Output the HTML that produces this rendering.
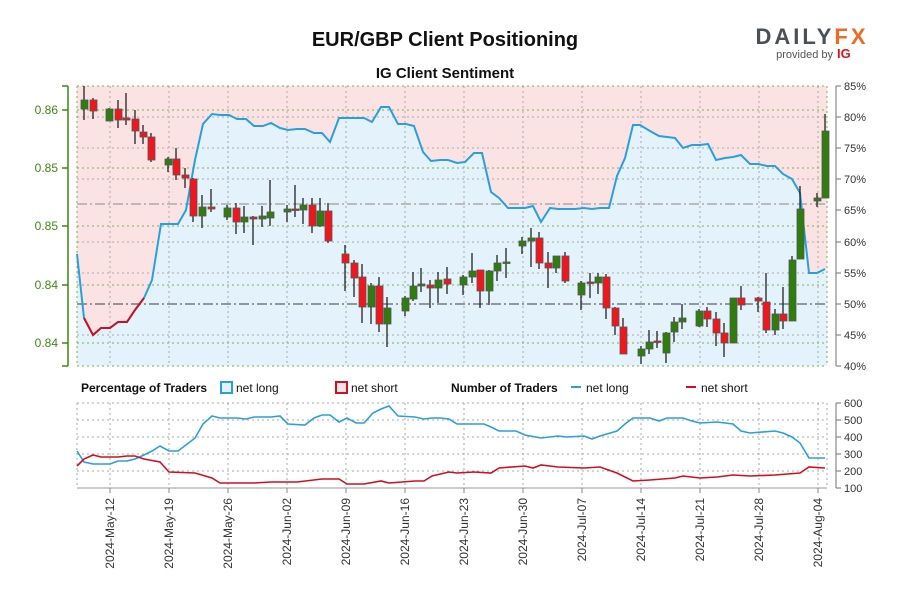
<!DOCTYPE html>
<html><head><meta charset="utf-8"><style>
body{margin:0;background:#fff;width:900px;height:600px;overflow:hidden;font-family:"Liberation Sans",sans-serif}
</style></head><body>
<svg width="900" height="600" xmlns="http://www.w3.org/2000/svg" font-family="Liberation Sans, sans-serif">
<rect width="900" height="600" fill="#fff"/>
<text x="445" y="46" text-anchor="middle" font-size="20" font-weight="bold" fill="#111">EUR/GBP Client Positioning</text>
<text x="445" y="78" text-anchor="middle" font-size="15" font-weight="bold" fill="#111">IG Client Sentiment</text>
<text x="812" y="44" text-anchor="middle" font-size="22" font-weight="bold" letter-spacing="3" fill="#4a5058">DAILY<tspan fill="#f26a21">FX</tspan></text>
<text x="833" y="58" text-anchor="end" font-size="11" fill="#555">provided by</text>
<text x="837" y="58" font-size="13" font-weight="bold" fill="#e3101a">IG</text>

<!-- main plot -->
<rect x="77" y="86" width="750" height="280" fill="#fbe3e4"/>
<polygon fill="#e4f2fb" points="77,366 77,254 84,318 93,335 101,328 110,328 118,322 127,322 135,310 144,298 152,280 161,224 169,224 178,224 186,210 195,160 203,124 212,114 220,115 229,115 237,119 246,119 254,126 263,126 271,123 280,128 288,130 297,129 305,129 314,133 322,133 330,142 339,118 347,118 356,118 364,118 372,122 381,107 389,107 398,124 406,124 414,126 423,152 431,161 440,160 448,160 457,163 465,162 474,153 482,153 491,192 499,198 508,208 516,208 525,208 533,206 541,222 550,208 558,209 567,209 575,209 584,208 592,209 600,208 609,208 617,176 625,158 633,125 640,125 650,131 659,136 667,137 675,138 683,148 692,145 700,145 708,144 716,160 725,158 733,157 741,155 750,164 758,164 767,166 775,166 783,174 792,179 800,193 809,273 817,273 825,269 827,268 827,366"/>
<g stroke="#aaa" stroke-dasharray="2,3" stroke-width="1">
<line x1="110" y1="86" x2="110" y2="366"/><line x1="169" y1="86" x2="169" y2="366"/><line x1="228" y1="86" x2="228" y2="366"/><line x1="287" y1="86" x2="287" y2="366"/><line x1="346" y1="86" x2="346" y2="366"/><line x1="405" y1="86" x2="405" y2="366"/><line x1="464" y1="86" x2="464" y2="366"/><line x1="523" y1="86" x2="523" y2="366"/><line x1="582" y1="86" x2="582" y2="366"/><line x1="641" y1="86" x2="641" y2="366"/><line x1="700" y1="86" x2="700" y2="366"/><line x1="759" y1="86" x2="759" y2="366"/><line x1="818" y1="86" x2="818" y2="366"/>
<line x1="77" y1="117" x2="827" y2="117"/><line x1="77" y1="179" x2="827" y2="179"/><line x1="77" y1="242" x2="827" y2="242"/><line x1="77" y1="273" x2="827" y2="273"/><line x1="77" y1="335" x2="827" y2="335"/><line x1="77" y1="148" x2="827" y2="148"/>
</g>
<g stroke="#7cb04a" stroke-dasharray="2,3" stroke-width="1">
<line x1="77" y1="86" x2="827" y2="86"/><line x1="77" y1="110" x2="827" y2="110"/><line x1="77" y1="168" x2="827" y2="168"/><line x1="77" y1="226" x2="827" y2="226"/><line x1="77" y1="285" x2="827" y2="285"/><line x1="77" y1="343" x2="827" y2="343"/><line x1="77" y1="366" x2="827" y2="366"/>
<line x1="77" y1="86" x2="77" y2="366"/><line x1="827" y1="86" x2="827" y2="366"/>
</g>
<line x1="77" y1="204" x2="827" y2="204" stroke="#aaa" stroke-width="1.5" stroke-dasharray="10,3,2,3"/>
<line x1="77" y1="304" x2="827" y2="304" stroke="#777" stroke-width="1.5" stroke-dasharray="10,3,2,3"/>
<polyline fill="none" stroke="#2a9fe0" stroke-width="2" points="77,254 84,318 93,335 101,328 110,328 118,322 127,322 135,310 144,298 152,280 161,224 169,224 178,224 186,210 195,160 203,124 212,114 220,115 229,115 237,119 246,119 254,126 263,126 271,123 280,128 288,130 297,129 305,129 314,133 322,133 330,142 339,118 347,118 356,118 364,118 372,122 381,107 389,107 398,124 406,124 414,126 423,152 431,161 440,160 448,160 457,163 465,162 474,153 482,153 491,192 499,198 508,208 516,208 525,208 533,206 541,222 550,208 558,209 567,209 575,209 584,208 592,209 600,208 609,208 617,176 625,158 633,125 640,125 650,131 659,136 667,137 675,138 683,148 692,145 700,145 708,144 716,160 725,158 733,157 741,155 750,164 758,164 767,166 775,166 783,174 792,179 800,193 809,273 817,273 825,269"/>
<polyline fill="none" stroke="#d0101e" stroke-width="2" points="84,318 93,335 101,328 110,328 118,322 127,322 135,310 144,298"/>

<!-- candles -->
<g stroke="#222" stroke-width="1.3">
<line x1="84" y1="86" x2="84" y2="120"/><line x1="93" y1="98" x2="93" y2="119"/><line x1="109" y1="108" x2="109" y2="121"/><line x1="118" y1="100" x2="118" y2="128"/><line x1="126" y1="93" x2="126" y2="125"/><line x1="135" y1="110" x2="135" y2="144"/><line x1="143" y1="125" x2="143" y2="144"/><line x1="151" y1="133" x2="151" y2="162"/><line x1="168" y1="157" x2="168" y2="172"/><line x1="176" y1="148" x2="176" y2="180"/><line x1="185" y1="168" x2="185" y2="188"/><line x1="193" y1="178" x2="193" y2="222"/><line x1="202" y1="195" x2="202" y2="228"/><line x1="211" y1="189" x2="211" y2="212"/><line x1="227" y1="205" x2="227" y2="220"/><line x1="236" y1="203" x2="236" y2="234"/><line x1="244" y1="206" x2="244" y2="233"/><line x1="253" y1="216" x2="253" y2="245"/><line x1="262" y1="206" x2="262" y2="227"/><line x1="270" y1="180" x2="270" y2="226"/><line x1="287" y1="205" x2="287" y2="222"/><line x1="295" y1="185" x2="295" y2="217"/><line x1="303" y1="198" x2="303" y2="224"/><line x1="312" y1="198" x2="312" y2="233"/><line x1="320" y1="198" x2="320" y2="227"/><line x1="328" y1="203" x2="328" y2="243"/>
<line x1="345" y1="245" x2="345" y2="291"/><line x1="354" y1="260" x2="354" y2="297"/><line x1="362" y1="264" x2="362" y2="323"/><line x1="371" y1="283" x2="371" y2="324"/><line x1="379" y1="277" x2="379" y2="332"/><line x1="387" y1="297" x2="387" y2="347"/><line x1="405" y1="296" x2="405" y2="316"/><line x1="413" y1="272" x2="413" y2="301"/><line x1="421" y1="268" x2="421" y2="292"/><line x1="430" y1="280" x2="430" y2="308"/><line x1="438" y1="272" x2="438" y2="303"/><line x1="447" y1="267" x2="447" y2="294"/><line x1="463" y1="275" x2="463" y2="295"/><line x1="472" y1="253" x2="472" y2="283"/><line x1="480" y1="270" x2="480" y2="308"/><line x1="489" y1="270" x2="489" y2="305"/><line x1="497" y1="255" x2="497" y2="281"/><line x1="506" y1="248" x2="506" y2="278"/><line x1="522" y1="237" x2="522" y2="254"/><line x1="531" y1="228" x2="531" y2="267"/><line x1="539" y1="232" x2="539" y2="269"/><line x1="548" y1="252" x2="548" y2="288"/><line x1="556" y1="256" x2="556" y2="273"/><line x1="565" y1="252" x2="565" y2="283"/><line x1="581" y1="281" x2="581" y2="310"/><line x1="590" y1="273" x2="590" y2="298"/><line x1="598" y1="273" x2="598" y2="294"/><line x1="606" y1="274" x2="606" y2="319"/><line x1="615" y1="307" x2="615" y2="335"/><line x1="623" y1="318" x2="623" y2="354"/><line x1="641" y1="346" x2="641" y2="364"/><line x1="649" y1="330" x2="649" y2="354"/><line x1="657" y1="331" x2="657" y2="348"/><line x1="666" y1="332" x2="666" y2="363"/><line x1="674" y1="317" x2="674" y2="342"/><line x1="682" y1="304" x2="682" y2="329"/><line x1="699" y1="309" x2="699" y2="327"/><line x1="707" y1="307" x2="707" y2="327"/><line x1="716" y1="312" x2="716" y2="346"/><line x1="724" y1="323" x2="724" y2="357"/><line x1="733" y1="298" x2="733" y2="343"/><line x1="741" y1="286" x2="741" y2="310"/><line x1="758" y1="297" x2="758" y2="312"/><line x1="766" y1="273" x2="766" y2="333"/><line x1="775" y1="309" x2="775" y2="335"/><line x1="783" y1="287" x2="783" y2="329"/><line x1="792" y1="256" x2="792" y2="321"/><line x1="800" y1="186" x2="800" y2="259"/><line x1="817" y1="193" x2="817" y2="207"/><line x1="825" y1="114" x2="825" y2="198"/>
</g>
<g stroke="#555" stroke-width="0.8" fill="#2e7d0e">
<rect x="81" y="100" width="7" height="9"/><rect x="106" y="109" width="7" height="12"/><rect x="165" y="159" width="7" height="6"/><rect x="199" y="207" width="7" height="9"/><rect x="224" y="208" width="7" height="9"/><rect x="241" y="217" width="7" height="5"/><rect x="259" y="216" width="7" height="3"/><rect x="267" y="212" width="7" height="6"/><rect x="284" y="209" width="7" height="3"/><rect x="300" y="205" width="7" height="5"/><rect x="317" y="211" width="7" height="15"/>
<rect x="368" y="286" width="7" height="21"/><rect x="384" y="308" width="7" height="16"/><rect x="402" y="298" width="7" height="13"/><rect x="410" y="286" width="7" height="13"/><rect x="418" y="284" width="7" height="2"/><rect x="435" y="280" width="7" height="8"/><rect x="460" y="277" width="7" height="8"/><rect x="469" y="271" width="7" height="6"/><rect x="486" y="271" width="7" height="20"/><rect x="494" y="263" width="7" height="8"/><rect x="503" y="262" width="7" height="1.5"/><rect x="519" y="241" width="7" height="5"/><rect x="528" y="238" width="7" height="3"/><rect x="553" y="256" width="7" height="12"/><rect x="578" y="283" width="7" height="12"/><rect x="595" y="277" width="7" height="6"/><rect x="638" y="349" width="7" height="7"/><rect x="646" y="342" width="7" height="7"/><rect x="663" y="333" width="7" height="20"/><rect x="671" y="322" width="7" height="10"/><rect x="679" y="318" width="7" height="4"/><rect x="696" y="311" width="7" height="15"/><rect x="730" y="298" width="7" height="45"/><rect x="772" y="314" width="7" height="16"/><rect x="789" y="260" width="7" height="61"/><rect x="797" y="209" width="7" height="50"/><rect x="814" y="198" width="7" height="3"/><rect x="822" y="131" width="7" height="67"/>
</g>
<g stroke="#555" stroke-width="0.8" fill="#f0161e">
<rect x="90" y="100" width="7" height="11"/><rect x="115" y="109" width="7" height="11"/><rect x="123" y="118" width="7" height="2"/><rect x="132" y="119" width="7" height="12"/><rect x="140" y="132" width="7" height="5"/><rect x="148" y="137" width="7" height="23"/><rect x="173" y="159" width="7" height="16"/><rect x="182" y="175" width="7" height="3"/><rect x="190" y="179" width="7" height="37"/><rect x="208" y="207" width="7" height="2"/><rect x="233" y="208" width="7" height="14"/><rect x="250" y="217" width="7" height="2"/><rect x="292" y="209" width="7" height="1.5"/><rect x="309" y="205" width="7" height="21"/><rect x="325" y="211" width="7" height="30"/>
<rect x="342" y="254" width="7" height="9"/><rect x="351" y="263" width="7" height="15"/><rect x="359" y="277" width="7" height="30"/><rect x="376" y="286" width="7" height="38"/><rect x="427" y="285" width="7" height="3"/><rect x="444" y="279" width="7" height="5"/><rect x="477" y="270" width="7" height="21"/><rect x="536" y="238" width="7" height="25"/><rect x="545" y="263" width="7" height="5"/><rect x="562" y="256" width="7" height="25"/><rect x="587" y="282" width="7" height="1.5"/><rect x="603" y="277" width="7" height="31"/><rect x="612" y="308" width="7" height="18"/><rect x="620" y="327" width="7" height="27"/><rect x="654" y="341" width="7" height="1.5"/><rect x="704" y="311" width="7" height="8"/><rect x="713" y="319" width="7" height="14"/><rect x="721" y="333" width="7" height="10"/><rect x="738" y="298" width="7" height="7"/><rect x="755" y="298" width="7" height="3"/><rect x="763" y="302" width="7" height="28"/><rect x="780" y="314" width="7" height="7"/>
</g>

<!-- left axis -->
<g stroke="#3d8a10" stroke-width="1.5">
<line x1="68" y1="86" x2="68" y2="366"/><line x1="62" y1="86" x2="68" y2="86"/><line x1="62" y1="110" x2="68" y2="110"/><line x1="62" y1="168" x2="68" y2="168"/><line x1="62" y1="226" x2="68" y2="226"/><line x1="62" y1="285" x2="68" y2="285"/><line x1="62" y1="343" x2="68" y2="343"/><line x1="62" y1="366" x2="68" y2="366"/>
</g>
<g font-size="12" fill="#3d8a10" text-anchor="end">
<text x="58" y="114">0.86</text><text x="58" y="172">0.85</text><text x="58" y="230">0.85</text><text x="58" y="289">0.84</text><text x="58" y="347">0.84</text>
</g>
<!-- right axis -->
<g stroke="#888" stroke-width="1.2">
<line x1="836" y1="86" x2="836" y2="366"/>
<line x1="836" y1="86" x2="841" y2="86"/><line x1="836" y1="117" x2="841" y2="117"/><line x1="836" y1="148" x2="841" y2="148"/><line x1="836" y1="179" x2="841" y2="179"/><line x1="836" y1="210" x2="841" y2="210"/><line x1="836" y1="242" x2="841" y2="242"/><line x1="836" y1="273" x2="841" y2="273"/><line x1="836" y1="304" x2="841" y2="304"/><line x1="836" y1="335" x2="841" y2="335"/><line x1="836" y1="366" x2="841" y2="366"/>
</g>
<g font-size="11" fill="#333">
<text x="844" y="90">85%</text><text x="844" y="121">80%</text><text x="844" y="152">75%</text><text x="844" y="183">70%</text><text x="844" y="214">65%</text><text x="844" y="246">60%</text><text x="844" y="277">55%</text><text x="844" y="308">50%</text><text x="844" y="339">45%</text><text x="844" y="370">40%</text>
</g>

<!-- legend -->
<g font-size="12" fill="#111">
<text x="81" y="392" font-weight="bold">Percentage of Traders</text>
<rect x="221" y="382" width="11" height="11" fill="#e4f2fb" stroke="#2a9fe0" stroke-width="2"/>
<text x="236" y="392">net long</text>
<rect x="336" y="382" width="11" height="11" fill="#fbe3e4" stroke="#d0101e" stroke-width="2"/>
<text x="351" y="392">net short</text>
<text x="451" y="392" font-weight="bold">Number of Traders</text>
<line x1="571" y1="387" x2="581" y2="387" stroke="#2a9fe0" stroke-width="2"/>
<text x="586" y="392">net long</text>
<line x1="686" y1="387" x2="696" y2="387" stroke="#d0101e" stroke-width="2"/>
<text x="701" y="392">net short</text>
</g>

<!-- lower panel -->
<g stroke="#aaa" stroke-dasharray="2,3" stroke-width="1">
<line x1="77" y1="403" x2="827" y2="403"/><line x1="77" y1="420" x2="827" y2="420"/><line x1="77" y1="437" x2="827" y2="437"/><line x1="77" y1="454" x2="827" y2="454"/><line x1="77" y1="471" x2="827" y2="471"/>
<line x1="77" y1="403" x2="77" y2="488"/><line x1="827" y1="403" x2="827" y2="488"/>
<line x1="110" y1="403" x2="110" y2="488"/><line x1="169" y1="403" x2="169" y2="488"/><line x1="228" y1="403" x2="228" y2="488"/><line x1="287" y1="403" x2="287" y2="488"/><line x1="346" y1="403" x2="346" y2="488"/><line x1="405" y1="403" x2="405" y2="488"/><line x1="464" y1="403" x2="464" y2="488"/><line x1="523" y1="403" x2="523" y2="488"/><line x1="582" y1="403" x2="582" y2="488"/><line x1="641" y1="403" x2="641" y2="488"/><line x1="700" y1="403" x2="700" y2="488"/><line x1="759" y1="403" x2="759" y2="488"/><line x1="818" y1="403" x2="818" y2="488"/>
</g>
<line x1="77" y1="488" x2="827" y2="488" stroke="#999" stroke-width="1"/>
<polyline fill="none" stroke="#2a9fe0" stroke-width="1.6" points="77,451 84,462 93,464 110,464 118,461 127,461 135,459 144,455 152,451 160,446 169,451 178,451 186,445 195,438 203,424 212,416 220,418 237,418 246,419 254,417 271,417 280,416 288,424 305,425 314,418 322,415 330,415 339,422 347,418 356,423 364,423 373,413 381,409 389,406 398,416 415,417 424,419 432,418 440,418 449,419 457,424 470,424 484,424 491,427 499,431 516,431 525,435 541,438 558,436 567,437 584,436 592,439 600,436 617,431 625,424 633,418 650,418 659,421 667,418 683,418 692,421 700,423 717,422 733,424 741,431 750,433 775,431 783,433 792,437 800,443 809,458 825,458"/>
<polyline fill="none" stroke="#d0101e" stroke-width="1.6" points="77,466 84,459 93,455 101,457 118,457 127,456 135,456 144,459 160,462 169,472 195,473 212,478 220,483 254,483 271,482 297,482 322,479 339,479 347,484 364,484 381,481 389,483 415,481 424,481 432,476 449,472 457,473 474,472 491,473 499,468 525,466 533,468 541,465 558,467 584,468 600,467 617,473 633,481 650,480 675,478 683,476 700,478 717,477 733,475 750,476 775,475 800,473 809,467 825,468"/>
<g stroke="#888" stroke-width="1.2">
<line x1="836" y1="403" x2="836" y2="488"/>
<line x1="836" y1="403" x2="841" y2="403"/><line x1="836" y1="420" x2="841" y2="420"/><line x1="836" y1="437" x2="841" y2="437"/><line x1="836" y1="454" x2="841" y2="454"/><line x1="836" y1="471" x2="841" y2="471"/><line x1="836" y1="488" x2="841" y2="488"/>
</g>
<g font-size="11" fill="#333">
<text x="844" y="407">600</text><text x="844" y="424">500</text><text x="844" y="441">400</text><text x="844" y="458">300</text><text x="844" y="475">200</text><text x="844" y="492">100</text>
</g>
<g stroke="#888"><line x1="110" y1="488" x2="110" y2="493"/><line x1="169" y1="488" x2="169" y2="493"/><line x1="228" y1="488" x2="228" y2="493"/><line x1="287" y1="488" x2="287" y2="493"/><line x1="346" y1="488" x2="346" y2="493"/><line x1="405" y1="488" x2="405" y2="493"/><line x1="464" y1="488" x2="464" y2="493"/><line x1="523" y1="488" x2="523" y2="493"/><line x1="582" y1="488" x2="582" y2="493"/><line x1="641" y1="488" x2="641" y2="493"/><line x1="700" y1="488" x2="700" y2="493"/><line x1="759" y1="488" x2="759" y2="493"/><line x1="818" y1="488" x2="818" y2="493"/></g>
<g font-size="12" fill="#333" text-anchor="end">
<text transform="translate(114,498) rotate(-90)">2024-May-12</text>
<text transform="translate(173,498) rotate(-90)">2024-May-19</text>
<text transform="translate(232,498) rotate(-90)">2024-May-26</text>
<text transform="translate(291,498) rotate(-90)">2024-Jun-02</text>
<text transform="translate(350,498) rotate(-90)">2024-Jun-09</text>
<text transform="translate(409,498) rotate(-90)">2024-Jun-16</text>
<text transform="translate(468,498) rotate(-90)">2024-Jun-23</text>
<text transform="translate(527,498) rotate(-90)">2024-Jun-30</text>
<text transform="translate(586,498) rotate(-90)">2024-Jul-07</text>
<text transform="translate(645,498) rotate(-90)">2024-Jul-14</text>
<text transform="translate(704,498) rotate(-90)">2024-Jul-21</text>
<text transform="translate(763,498) rotate(-90)">2024-Jul-28</text>
<text transform="translate(822,498) rotate(-90)">2024-Aug-04</text>
</g>
</svg>
</body></html>
